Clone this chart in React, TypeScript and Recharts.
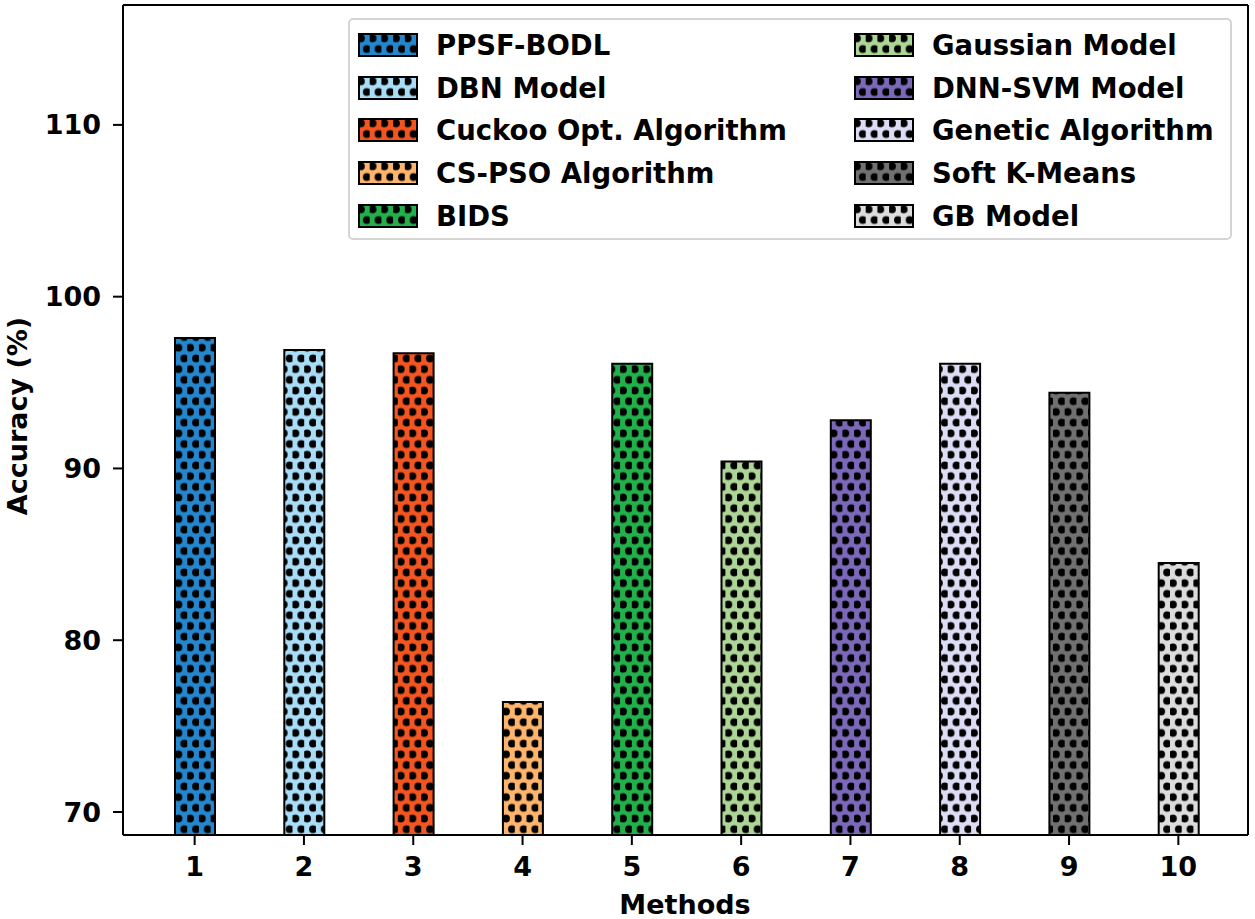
import { BarChart, Bar, XAxis, YAxis, Cell, Legend, CartesianGrid } from 'recharts';

// values
const methods = ['1', '2', '3', '4', '5', '6', '7', '8', '9', '10'];
const names = [
  'PPSF-BODL',
  'DBN Model',
  'Cuckoo Opt. Algorithm',
  'CS-PSO Algorithm',
  'BIDS',
  'Gaussian Model',
  'DNN-SVM Model',
  'Genetic Algorithm',
  'Soft K-Means',
  'GB Model',
];
const accuracy = [97.6, 96.9, 96.7, 76.4, 96.1, 90.4, 92.8, 96.1, 94.4, 84.5];
const colors = [
  '#2486cc',
  '#a8dcf7',
  '#f25520',
  '#fdb46c',
  '#22b04a',
  '#acd596',
  '#7b68b8',
  '#dcdcf4',
  '#707070',
  '#dcdcdc',
];
const yTicks = [70, 80, 90, 100, 110];

const data = methods.map((m, i) => ({ method: m, accuracy: accuracy[i], name: names[i] }));

const FONT = '"DejaVu Sans", sans-serif';
const TICK_STYLE = { fill: '#000', fontSize: 27, fontWeight: 700, fontFamily: FONT };

// dotted hatch, like matplotlib's 'o' hatch
const DotPattern = ({ id, color }: { id: string; color: string }) => (
  <pattern id={id} patternUnits="userSpaceOnUse" width={11.7} height={21.4}>
    <rect width={11.7} height={21.4} fill={color} />
    <circle cx={2.9} cy={5.35} r={3.9} fill="#000" />
    <circle cx={8.8} cy={16.05} r={3.9} fill="#000" />
  </pattern>
);

const LegendBox = () => (
  <div
    style={{
      position: 'relative',
      width: 884,
      height: 222,
      boxSizing: 'border-box',
      border: '2px solid #d4d4d4',
      borderRadius: 5,
      background: 'rgba(255,255,255,0.85)',
      fontFamily: FONT,
      fontWeight: 700,
      fontSize: 27.5,
      color: '#000',
    }}
  >
    {names.map((n, i) => {
      const col = Math.floor(i / 5);
      const row = i % 5;
      return (
        <div
          key={n}
          style={{
            position: 'absolute',
            left: col === 0 ? 8 : 504,
            top: 12 + row * 42.7,
            height: 26,
            display: 'flex',
            alignItems: 'center',
            whiteSpace: 'nowrap',
          }}
        >
          <svg width={60} height={24} style={{ marginRight: 18 }}>
            <defs>
              <DotPattern id={`lg-${i}`} color={colors[i]} />
            </defs>
            <rect x={1} y={1} width={58} height={22} fill={`url(#lg-${i})`} stroke="#000" strokeWidth={2} />
          </svg>
          <span>{n}</span>
        </div>
      );
    })}
  </div>
);

export default function App() {
  return (
    <div style={{ position: 'absolute', left: 0, top: 0, width: 1255, height: 919, background: '#fff' }}>
      <BarChart width={1255} height={919} data={data} margin={{ top: 5, right: 7, left: 0, bottom: 0 }}>
        <defs>
          {colors.map((c, i) => (
            <DotPattern key={i} id={`hatch-${i}`} color={c} />
          ))}
        </defs>
        {/* top and right spines */}
        <CartesianGrid
          stroke="#000"
          strokeWidth={2}
          horizontalCoordinatesGenerator={({ offset }: any) => [offset.top]}
          verticalCoordinatesGenerator={({ offset }: any) => [offset.left + offset.width]}
        />
        <XAxis
          dataKey="method"
          height={84}
          padding={{ left: 17, right: 15 }}
          tick={TICK_STYLE}
          tickSize={10}
          tickMargin={12}
          axisLine={{ stroke: '#000', strokeWidth: 2 }}
          tickLine={{ stroke: '#000', strokeWidth: 2 }}
          label={{
            content: () => (
              <text x={685} y={914} textAnchor="middle" style={TICK_STYLE}>
                Methods
              </text>
            ),
          }}
        />
        <YAxis
          width={123}
          domain={[68.66, 116.98]}
          ticks={yTicks}
          allowDataOverflow
          tick={TICK_STYLE}
          tickSize={10}
          tickMargin={12}
          axisLine={{ stroke: '#000', strokeWidth: 2 }}
          tickLine={{ stroke: '#000', strokeWidth: 2 }}
          label={{
            content: () => (
              <text x={27} y={416} transform="rotate(-90, 27, 416)" textAnchor="middle" style={TICK_STYLE}>
                Accuracy (%)
              </text>
            ),
          }}
        />
        <Legend
          verticalAlign="middle"
          content={<LegendBox />}
          wrapperStyle={{ position: 'absolute', left: 348, top: 18, width: 884, height: 222 }}
        />
        <Bar dataKey="accuracy" barSize={40} stroke="#000" strokeWidth={2} isAnimationActive={false}>
          {data.map((d, i) => (
            <Cell key={d.method} fill={`url(#hatch-${i})`} />
          ))}
        </Bar>
      </BarChart>
    </div>
  );
}
